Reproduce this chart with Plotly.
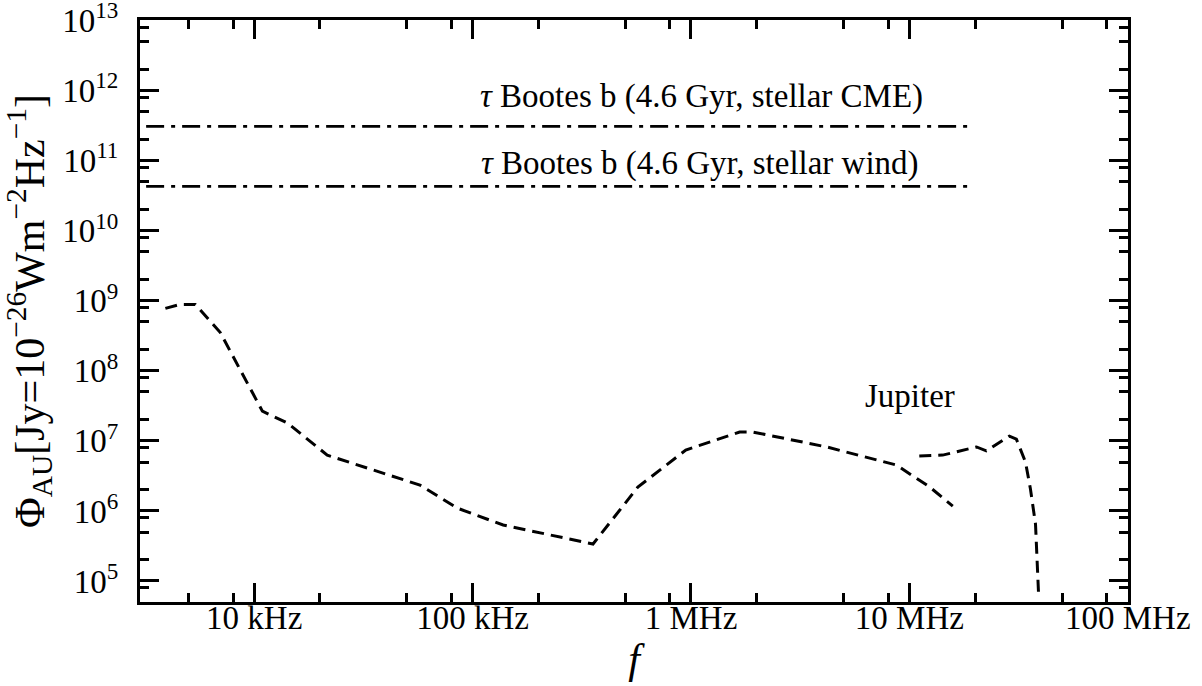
import plotly.graph_objects as go

# ---- data ----
jup_low_f = [3.92e3, 4.58e3, 5.37e3, 6.98e3, 1.09e4, 1.42e4, 2.16e4, 5.74e4, 8.49e4,
             1.38e5, 3.56e5, 5.71e5, 9.46e5, 1.67e6, 1.92e6, 4.18e6, 8.73e6, 1.24e7, 1.58e7]
jup_low_phi = [7.8e8, 8.9e8, 8.9e8, 3.56e8, 2.66e7, 1.8e7, 6.27e6, 2.34e6, 1.1e6,
               6.3e5, 3.37e5, 2.19e6, 7.4e6, 1.34e7, 1.34e7, 8.2e6, 4.52e6, 2.19e6, 1.17e6]

jup_high_f = [1.11e7, 1.42e7, 2.03e7, 2.25e7, 2.87e7, 3.09e7, 3.40e7, 3.58e7, 3.78e7, 3.90e7]
jup_high_phi = [6.07e6, 6.27e6, 8.2e6, 7.2e6, 1.17e7, 1.06e7, 5.0e6, 2.1e6, 6.5e5, 7.0e4]

tau_f = [3.2e3, 1.9e7]
tau_cme_phi = [3.1e11, 3.1e11]
tau_wind_phi = [4.3e10, 4.3e10]

x_tickvals = [1e4, 1e5, 1e6, 1e7, 1e8]
x_ticktext = ["10 kHz", "100 kHz", "1 MHz", "10 MHz", "100 MHz"]
y_exponents = [5, 6, 7, 8, 9, 10, 11, 12, 13]
minor_mult = [2, 5, 8]

y_tickvals = [10.0 ** e for e in y_exponents]
y_ticktext = [f"10<sup>{e}</sup>" for e in y_exponents]
x_minor = [m * 10.0 ** d for d in range(3, 8) for m in minor_mult if 3e3 <= m * 10.0 ** d <= 1e8]
y_minor = [m * 10.0 ** d for d in range(4, 13) for m in minor_mult if 5.02e4 <= m * 10.0 ** d <= 1e13]

FONT = "Liberation Serif, Times New Roman, Times, serif"

fig = go.Figure()
fig.add_trace(go.Scatter(x=jup_low_f, y=jup_low_phi, mode="lines",
                         line=dict(color="black", width=3, dash="12px,7px"),
                         showlegend=False, name="Jupiter"))
fig.add_trace(go.Scatter(x=jup_high_f, y=jup_high_phi, mode="lines",
                         line=dict(color="black", width=3, dash="12px,7px"),
                         showlegend=False, name="Jupiter (high f)"))
fig.add_trace(go.Scatter(x=tau_f, y=tau_cme_phi, mode="lines",
                         line=dict(color="black", width=2.8, dash="18px,7px,4px,7px"),
                         showlegend=False, name="tau Boo CME"))
fig.add_trace(go.Scatter(x=tau_f, y=tau_wind_phi, mode="lines",
                         line=dict(color="black", width=2.8, dash="18px,7px,4px,7px"),
                         showlegend=False, name="tau Boo wind"))

axis_common = dict(
    showgrid=False, zeroline=False, showline=True, linecolor="black", linewidth=3,
    mirror="ticks", ticks="inside", ticklen=19, tickwidth=2.5, tickcolor="black",
    tickfont=dict(family=FONT, size=33, color="black"), automargin=False,
    ticklabeloverflow="allow",
)

fig.update_xaxes(type="log", range=[3.4771, 8.001], tickmode="array",
                 tickvals=x_tickvals, ticktext=x_ticktext,
                 minor=dict(tickmode="array", tickvals=x_minor, ticks="inside",
                            ticklen=9, tickwidth=2.5, tickcolor="black", showgrid=False),
                 title=dict(text="<i>f</i>", font=dict(family=FONT, size=42, color="black"),
                            standoff=0),
                 ticklabelstandoff=-16,
                 **axis_common)
fig.update_yaxes(type="log", range=[4.70, 13.01], tickmode="array",
                 tickvals=y_tickvals, ticktext=y_ticktext,
                 minor=dict(tickmode="array", tickvals=y_minor, ticks="inside",
                            ticklen=9, tickwidth=2.5, tickcolor="black", showgrid=False),
                 title=dict(text="Φ<sub>AU</sub>[Jy=10<sup>−26</sup>Wm<sup>−2</sup>Hz<sup>−1</sup>]",
                            font=dict(family=FONT, size=42, color="black"),
                            standoff=11),
                 ticklabelstandoff=12,
                 **axis_common)

ann_font = dict(family=FONT, size=33, color="black")
fig.add_annotation(x=6.049, y=11.92, xref="x", yref="y", showarrow=False,
                   text="<i>τ</i> Bootes b (4.6 Gyr, stellar CME)", font=ann_font)
fig.add_annotation(x=6.040, y=10.96, xref="x", yref="y", showarrow=False,
                   text="<i>τ</i> Bootes b (4.6 Gyr, stellar wind)", font=ann_font)
fig.add_annotation(x=7.005, y=7.64, xref="x", yref="y", showarrow=False,
                   text="Jupiter", font=ann_font)

fig.update_layout(
    width=1202, height=686,
    margin=dict(l=140, r=74, t=20, b=84),
    paper_bgcolor="white", plot_bgcolor="white",
    font=dict(family=FONT, color="black"),
)

fig.write_html("out.html", config={"displayModeBar": False},
               post_script="document.body.style.margin='0px';document.body.style.overflow='hidden';")
